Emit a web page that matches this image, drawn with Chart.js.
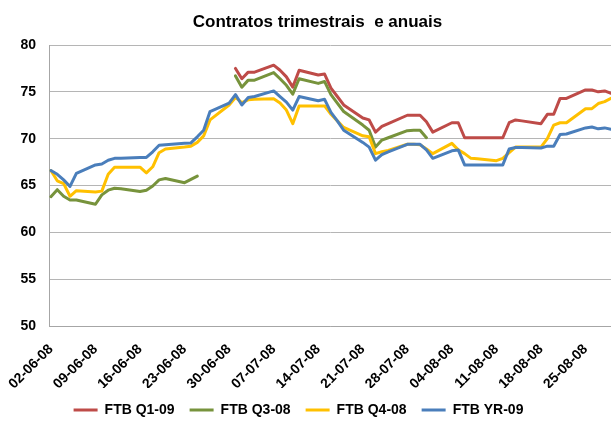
<!DOCTYPE html>
<html>
<head>
<meta charset="utf-8">
<script src="https://cdn.jsdelivr.net/npm/chart.js@4"></script>
<style>
  html, body { margin: 0; padding: 0; background: #fff; overflow: hidden; }
</style>
</head>
<body>
<canvas id="chart" width="611" height="422"></canvas>
<script>
const dates = [
  '02-06-08','03-06-08','04-06-08','05-06-08','06-06-08',
  '09-06-08','10-06-08','11-06-08','12-06-08','13-06-08',
  '16-06-08','17-06-08','18-06-08','19-06-08','20-06-08',
  '23-06-08','24-06-08','25-06-08','26-06-08','27-06-08',
  '30-06-08','01-07-08','02-07-08','03-07-08','04-07-08',
  '07-07-08','08-07-08','09-07-08','10-07-08','11-07-08',
  '14-07-08','15-07-08','16-07-08','17-07-08','18-07-08',
  '21-07-08','22-07-08','23-07-08','24-07-08','25-07-08',
  '28-07-08','29-07-08','30-07-08','31-07-08','01-08-08',
  '04-08-08','05-08-08','06-08-08','07-08-08','08-08-08',
  '11-08-08','12-08-08','13-08-08','14-08-08','15-08-08',
  '18-08-08','19-08-08','20-08-08','21-08-08','22-08-08',
  '25-08-08','26-08-08','27-08-08','28-08-08','29-08-08'
];

const tickLabels = ['02-06-08','09-06-08','16-06-08','23-06-08','30-06-08','07-07-08','14-07-08',
  '21-07-08','28-07-08','04-08-08','11-08-08','18-08-08','25-08-08'];

const q109 = [
  null, null, null, null, null,
  null, null, null, null, null,
  null, null, null, null, null,
  null, null, null, null, null,
  null, 77.5, 76.4, 77.1, 77.1,
  77.85, 77.3, 76.6, 75.5, 77.3,
  76.8, 76.9, 75.4, 74.5, 73.6,
  72.2, 72.0, 70.7, 71.3, 71.6,
  72.5, 72.5, 72.5, 71.8, 70.7,
  71.7, 71.7, 70.1, 70.1, 70.1,
  70.1, 70.1, 71.7, 72.0, 71.9,
  71.6, 72.6, 72.6, 74.3, 74.3,
  75.2, 75.2, 75.0, 75.1, 74.85
];

const q308 = [
  63.8, 64.55, 63.85, 63.45, 63.45,
  63.0, 64.0, 64.5, 64.7, 64.65,
  64.35, 64.5, 64.95, 65.6, 65.75,
  65.3, 65.65, 66.0, null, null,
  null, 76.7, 75.5, 76.25, 76.25,
  77.05, 76.4, 75.7, 74.75, 76.4,
  75.9, 76.1, 74.7, 73.8, 72.9,
  71.45, 70.9, 69.1, 69.85, 70.1,
  70.85, 70.9, 70.9, 70.1, null,
  null, null, null, null, null,
  null, null, null, null, null,
  null, null, null, null, null,
  null, null, null, null, null
];

const q408 = [
  66.6, 65.5, 65.2, 63.85, 64.45,
  64.3, 64.4, 66.2, 66.95, 66.95,
  66.95, 66.35, 67.0, 68.5, 68.9,
  69.1, 69.2, 69.6, 70.3, 72.0,
  73.6, 74.4, 73.85, 74.15, 74.2,
  74.25, 73.8, 73.05, 71.6, 73.5,
  73.5, 73.5, 72.6, 71.9, 71.2,
  70.3, 70.2, 68.4, 68.6, 68.75,
  69.4, 69.4, 69.35, 68.9, 68.4,
  69.5, 68.8, 68.4, 67.9, 67.85,
  67.65, 67.9, 68.5, 69.1, 69.1,
  69.1, 70.0, 71.45, 71.7, 71.7,
  73.2, 73.2, 73.75, 73.95, 74.3
];

const yr09 = [
  66.6, 66.2, 65.6, 64.9, 66.3,
  67.2, 67.3, 67.7, 67.9, 67.9,
  68.0, 68.0, 68.6, 69.3, 69.35,
  69.5, 69.55, 70.2, 70.9, 72.9,
  73.8, 74.7, 73.6, 74.4, 74.5,
  75.1, 74.5, 73.9, 73.05, 74.5,
  74.05, 74.2, 72.8, 71.9, 70.9,
  69.6, 69.1, 67.7, 68.3, 68.6,
  69.4, 69.4, 69.4, 68.8, 67.9,
  68.7, 68.8, 67.2, 67.2, 67.2,
  67.2, 67.2, 68.9, 69.05, 69.05,
  69.0, 69.2, 69.2, 70.45, 70.5,
  71.15, 71.25, 71.05, 71.15, 71.0
];

function dayNum(s) {
  const [d, m, y] = s.split('-').map(Number);
  return Date.UTC(2000 + y, m - 1, d) / 86400000;
}
const day0 = dayNum(dates[0]);
const toPoints = vals => vals.map((v, i) => ({ x: dayNum(dates[i]) - day0, y: v }));

const font = 'Arial, "Liberation Sans", sans-serif';

function series(label, vals, color, order) {
  return {
    label,
    data: toPoints(vals),
    borderColor: color,
    backgroundColor: color,
    borderWidth: 3,
    pointRadius: 0,
    pointHoverRadius: 0,
    tension: 0,
    borderJoinStyle: 'round',
    borderCapStyle: 'round',
    spanGaps: false,
    order,
  };
}

// title sits a little right of centre and the legend a little left in the original
const nudge = {
  id: 'nudge',
  afterLayout(chart) {
    chart.titleBlock.left += 12;
    chart.titleBlock.right += 12;
    chart.legend.left -= 7;
    chart.legend.right -= 7;
  },
};

new Chart(document.getElementById('chart'), {
  type: 'line',
  data: {
    datasets: [
      series('FTB Q1-09', q109, '#BE4B48', 3),
      series('FTB Q3-08', q308, '#77933C', 2),
      series('FTB Q4-08', q408, '#FFC000', 1),
      series('FTB YR-09', yr09, '#4A7EBB', 0),
    ],
  },
  plugins: [nudge],
  options: {
    responsive: false,
    animation: false,
    events: [],
    layout: { padding: { bottom: -5 } },
    plugins: {
      title: {
        display: true,
        text: 'Contratos trimestrais  e anuais',
        color: '#000',
        font: { family: font, size: 17, weight: 'bold' },
        padding: { top: 12, bottom: 12.6 },
      },
      legend: {
        position: 'bottom',
        labels: {
          usePointStyle: true,
          pointStyle: 'line',
          pointStyleWidth: 24,
          color: '#000',
          font: { family: font, size: 14, weight: 'bold' },
          padding: 15,
          sort: (a, b) => a.datasetIndex - b.datasetIndex,
        },
      },
      tooltip: { enabled: false },
    },
    scales: {
      x: {
        type: 'linear',
        min: -0.3,
        max: dayNum(dates[dates.length - 1]) - day0,
        afterBuildTicks: s => { s.ticks = tickLabels.map(l => ({ value: dayNum(l) - day0 })); },
        afterFit: s => { s.height = 62; s.paddingLeft = 0; s.paddingRight = 0; },
        grid: { display: false, drawTicks: false },
        border: { display: true, color: '#A6A6A6', width: 1 },
        ticks: {
          autoSkip: false,
          minRotation: 45,
          maxRotation: 45,
          padding: 15,
          labelOffset: 0,
          color: '#000',
          font: { family: font, size: 14, weight: 'bold' },
          callback: (v, i) => tickLabels[i],
        },
      },
      y: {
        min: 50,
        max: 80,
        afterFit: s => { s.width = 49; },
        grid: { color: '#B5B5B5', lineWidth: 1, drawTicks: false },
        border: { display: true, color: '#A6A6A6', width: 1 },
        ticks: {
          stepSize: 5,
          padding: 13,
          color: '#000',
          font: { family: font, size: 14, weight: 'bold' },
        },
      },
    },
  },
});
</script>
</body>
</html>
